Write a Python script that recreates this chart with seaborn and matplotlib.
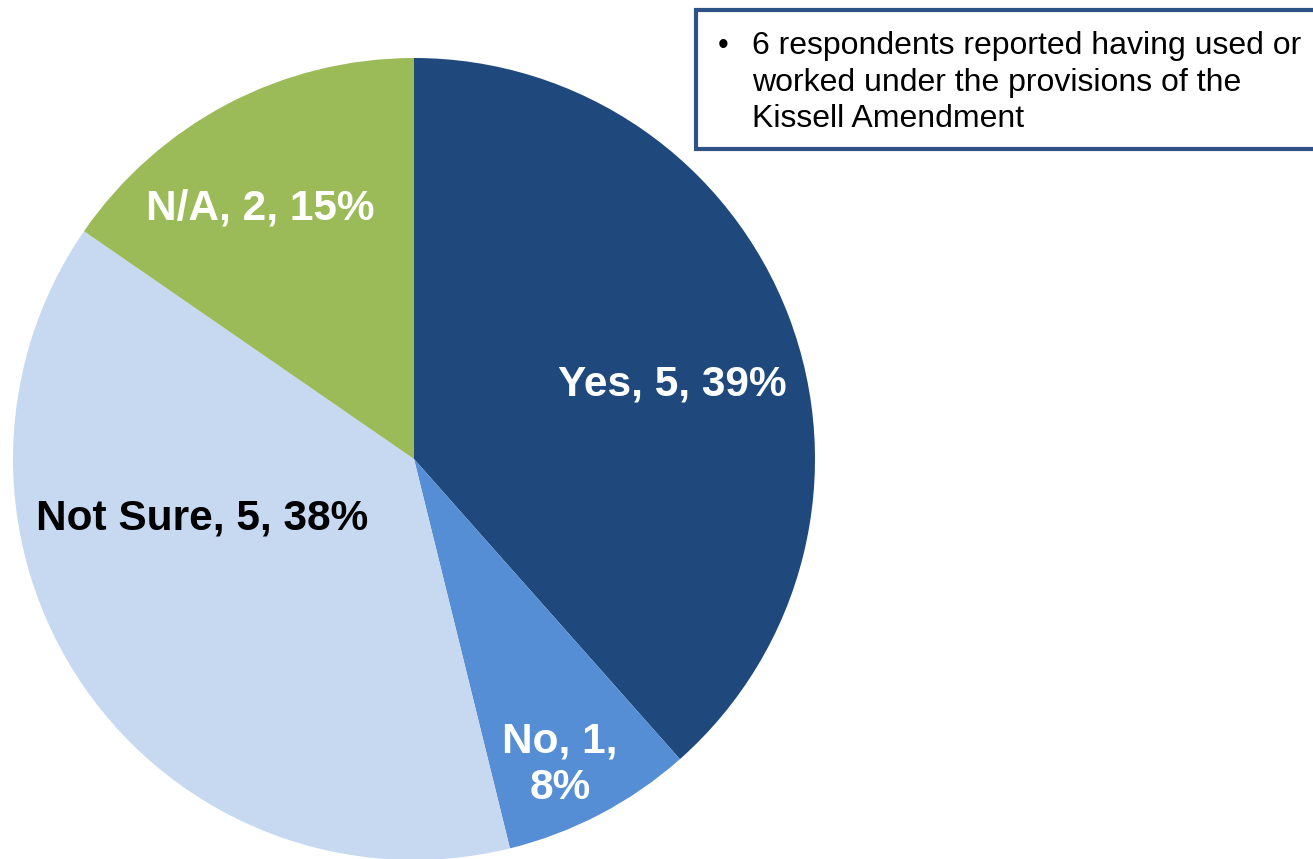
import matplotlib
matplotlib.use("Agg")
import matplotlib.pyplot as plt
import seaborn as sns
from matplotlib.patches import Rectangle

# Data
categories = ["Yes", "No", "Not Sure", "N/A"]
counts = [5, 1, 5, 2]
pct_labels = ["39%", "8%", "38%", "15%"]
colors = ["#1F497D", "#558ED5", "#C6D9F1", "#9BBB59"]
note_lines = ["6 respondents reported having used or",
              "worked under the provisions of the",
              "Kissell Amendment"]

sns.set_theme(style="white")
plt.rcParams['font.family'] = ['Liberation Sans', 'DejaVu Sans']

fig = plt.figure(figsize=(13.13, 8.59), dpi=100)
ax = fig.add_axes([0, 0, 1, 1])

# pie in pixel coordinates, starting at 12 o'clock going clockwise
ax.pie(counts, colors=colors, startangle=90, counterclock=False,
       center=(414, 400), radius=401, frame=True,
       wedgeprops=dict(linewidth=0))
ax.set_xlim(0, 1313)
ax.set_ylim(0, 859)
ax.set_aspect("equal")
ax.axis("off")

# slice labels
label_pos = [(672, 474), (560, 94), (202, 340), (260, 650)]
label_txt = [f"{categories[0]}, {counts[0]}, {pct_labels[0]}",
             f"{categories[1]}, {counts[1]},\n{pct_labels[1]}",
             f"{categories[2]}, {counts[2]}, {pct_labels[2]}",
             f"{categories[3]}, {counts[3]}, {pct_labels[3]}"]
label_col = ["white", "white", "black", "white"]
for (x, y), t, c in zip(label_pos, label_txt, label_col):
    ax.text(x, y, t, ha="center", va="center", fontsize=30.5,
            fontweight="bold", color=c, linespacing=1.2)

# note box
ax.add_patch(Rectangle((696, 710), 640, 139, facecolor="white",
                       edgecolor="#2E5283", linewidth=3, clip_on=False))
ax.text(718, 813, "\u2022", ha="left", va="center", fontsize=22, color="black")
for i, line in enumerate(note_lines):
    ax.text(752, 813 - 36.5 * i, line, ha="left", va="center",
            fontsize=23, color="black")

fig.savefig("out.png", dpi=100)
